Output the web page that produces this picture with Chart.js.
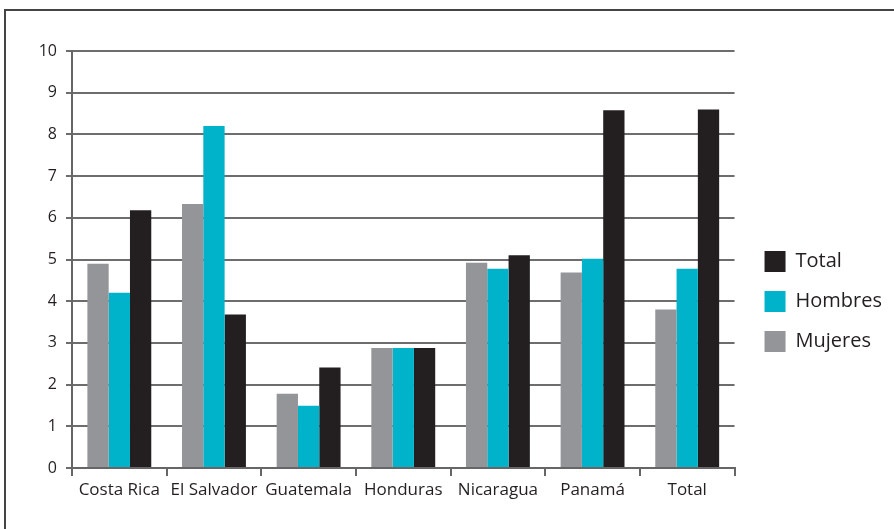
<!DOCTYPE html>
<html>
<head>
<meta charset="utf-8">
<script src="https://cdn.jsdelivr.net/npm/chart.js@4/dist/chart.umd.min.js"></script>
<style>
  body { margin: 0; background: #fff; }
  #frame { position: absolute; left: 4px; top: 9px; width: 890px; height: 520px;
           border-top: 2px solid #444; border-left: 2px solid #444; }
  #wrap { width: 888px; height: 518px; }
</style>
</head>
<body>
<div id="frame"><div id="wrap"><canvas id="chart"></canvas></div></div>
<script>
let Countries = ["Costa Rica", "El Salvador", "Guatemala", "Honduras", "Nicaragua", "Panamá", "Total"];
let Mujeres = [4.9, 6.33, 1.78, 2.88, 4.92, 4.69, 3.8];
let Hombres = [4.2, 8.2, 1.49, 2.88, 4.78, 5.02, 4.78];
let Total = [6.18, 3.68, 2.41, 2.88, 5.1, 8.58, 8.6];

const gray = "#939598";
const cyan = "#00b2ca";
const black = "#231f20";
const font = "'Open Sans', sans-serif";

// push the legend a little further away from the plot
const legendGap = {
    id: "legendGap",
    afterLayout(chart) { chart.legend.left += 11; }
};

new Chart("chart", {
    type: "bar",
    data: {
        labels: Countries,
        datasets: [
            {label: "Mujeres", data: Mujeres, backgroundColor: gray},
            {label: "Hombres", data: Hombres, backgroundColor: cyan},
            {label: "Total", data: Total, backgroundColor: black}
        ]
    },
    options: {
        responsive: true,
        maintainAspectRatio: false,
        animation: false,
        datasets: {bar: {categoryPercentage: 0.675, barPercentage: 1.0}},
        layout: {padding: {top: 40, bottom: 21, left: 0, right: 13}},
        plugins: {
            tooltip: {enabled: false},
            legend: {
                position: "right",
                reverse: true,
                title: {display: true, text: " ", padding: 16, font: {size: 10}},
                labels: {
                    boxWidth: 21, boxHeight: 21, padding: 19,
                    color: black, font: {family: font, size: 20}
                }
            }
        },
        scales: {
            x: {
                afterFit: s => { s.height = 40; },
                grid: {display: true, offset: true, drawOnChartArea: false, tickLength: 8, color: "#666", lineWidth: 2},
                border: {color: "#666", width: 2},
                ticks: {color: black, font: {family: font, size: 17}, padding: 4, maxRotation: 0}
            },
            y: {
                min: 0, max: 10,
                afterFit: s => { s.width = 66; },
                grid: {color: "#6d6d6d", lineWidth: 2, tickLength: 6},
                border: {color: "#666", width: 2},
                ticks: {stepSize: 1, color: black, font: {family: font, size: 16}, padding: 9}
            }
        }
    },
    plugins: [legendGap]
});
</script>
</body>
</html>
